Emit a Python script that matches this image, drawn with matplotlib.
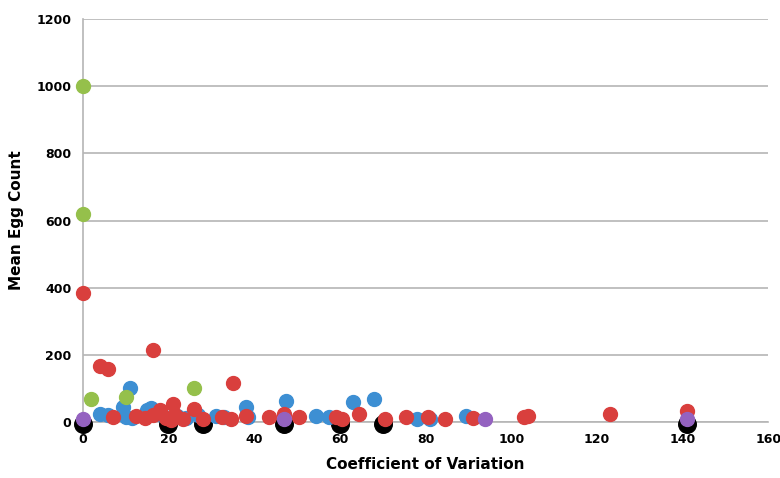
import matplotlib.pyplot as plt

# data (coefficient of variation vs mean egg count)
green_x = [0, 0, 2, 10, 26]
green_y = [1000, 620, 70, 75, 100]

blue_x = [4, 6, 9.5, 11, 11.5, 10, 15, 16, 18.5, 22, 24, 27, 31, 33, 38, 38.5,
          47.5, 54.5, 57.5, 63, 68, 78, 81, 89.5]
blue_y = [25, 20, 45, 100, 12, 15, 36, 42, 20, 18, 12, 22, 18, 15, 45, 15,
          62, 17, 15, 60, 70, 8, 10, 18]

red_x = [0, 4, 6, 16.5, 35, 7, 12.5, 14.5, 16.5, 18, 19.5, 20.5, 21, 21.5, 23.5,
         26, 28, 32.5, 34.5, 38, 43.5, 47, 50.5, 59, 60.5, 64.5, 70.5, 75.5,
         80.5, 84.5, 91, 103, 104, 123, 141]
red_y = [385, 168, 157, 215, 115, 15, 18, 12, 22, 36, 12, 5, 55, 22, 10,
         38, 8, 15, 10, 18, 15, 25, 15, 15, 8, 25, 8, 15,
         15, 8, 12, 16, 18, 23, 33]

black_x = [0, 20, 28, 47, 60, 70, 141]
black_y = [-6, -6, -6, -6, -6, -6, -6]

purple_x = [0, 47, 94, 141]
purple_y = [8, 8, 8, 8]

fig = plt.figure(figsize=(7.8, 4.78), dpi=100)
ax = fig.add_axes([0.106, 0.117, 0.879, 0.843])

ax.scatter(black_x, black_y, s=160, color='black', zorder=3, clip_on=False)
ax.scatter(blue_x, blue_y, s=100, color='#3d8fd3', zorder=4, clip_on=False)
ax.scatter(red_x, red_y, s=100, color='#d93f3d', zorder=5, clip_on=False)
ax.scatter(green_x, green_y, s=100, color='#95c04b', zorder=6, clip_on=False)
ax.scatter(purple_x, purple_y, s=100, color='#9462c0', zorder=7, clip_on=False)

ax.set_xlim(0, 160)
ax.set_ylim(0, 1200)
ax.set_xticks(range(0, 161, 20))
ax.set_yticks(range(0, 1201, 200))
ax.grid(axis='y', color='#b5b5b5', linewidth=1.2)
ax.set_axisbelow(True)
for side in ['top', 'right']:
    ax.spines[side].set_visible(False)
ax.spines['left'].set_color('#b5b5b5')
ax.spines['left'].set_linewidth(1.2)
ax.spines['bottom'].set_color('#b5b5b5')
ax.spines['bottom'].set_linewidth(1.2)
ax.tick_params(length=0, labelsize=9, pad=8)
for lbl in ax.get_xticklabels() + ax.get_yticklabels():
    lbl.set_fontweight('bold')
ax.set_xlabel('Coefficient of Variation', fontsize=11, fontweight='bold', labelpad=8)
ax.set_ylabel('Mean Egg Count', fontsize=11, fontweight='bold', labelpad=9)

fig.savefig('out.png', dpi=100)
